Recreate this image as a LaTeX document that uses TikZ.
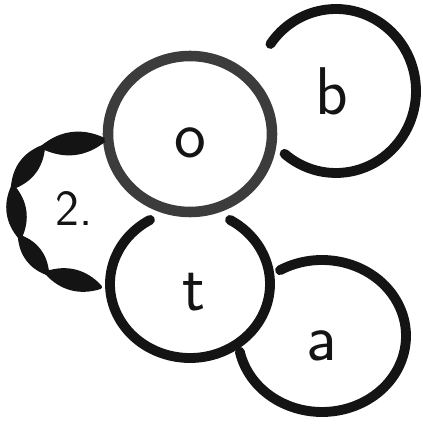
\documentclass[tikz,border=0pt]{standalone}
\usepackage{tikz}
\usetikzlibrary{calc}
\definecolor{inkblack}{HTML}{141414}
\definecolor{inkgrey}{HTML}{3C3C3C}
\newcommand{\ringarc}[6]{%
  \draw[#1] (#2) ++(#3:#5 and #6)
    arc[start angle=#3, end angle=#4, x radius=#5, y radius=#6];}

\begin{document}
\begin{tikzpicture}[
    ring/.style={draw=inkblack, line width=7pt, line cap=round},
    ringgrey/.style={draw=inkgrey, line width=7.5pt},
    lobe/.style={draw=inkblack, fill=inkblack, line width=3pt, line join=round},
    lettr/.style={font=\sffamily\fontsize{48}{48}\selectfont, text=inkblack, inner sep=0pt}]
  \useasboundingbox (0,0) rectangle (10.55,10.65);
  % ring centres
  \coordinate (oc) at (4.75,7.3);
  \coordinate (bc) at (8.4,8.375);
  \coordinate (tc) at (4.75,3.55);
  \coordinate (ac) at (8.05,2.25);
  % rings
  \ringarc{ringgrey}{oc}{0}{360}{2.05}{1.95}
  \ringarc{ring}{bc}{145}{-130}{2.0}{2.05}
  \ringarc{ring}{tc}{120}{420}{2.0}{1.85}
  \ringarc{ring}{ac}{120}{-168}{2.1}{1.9}
  % letters
  \node[lettr] (o) at (4.75,7.075) {o};
  \node[lettr] (b) at (8.3,8.375) {b};
  \node[lettr] (t) at (4.85,3.35) {t};
  \node[lettr] (a) at (8.05,2.0) {a};
  \node[lettr, font=\sffamily\fontsize{36}{36}\selectfont] (two) at (1.85,5.45) {2.};
  % chain of lobes
  \coordinate (k0) at (2.6,7.15);
  \coordinate (k1) at (1.075,6.975);
  \coordinate (k2) at (0.325,5.975);
  \coordinate (k3) at (0.5,4.725);
  \coordinate (k4) at (1.175,3.825);
  \coordinate (k5) at (2.5,3.475);
  \foreach \p/\q in {k0/k1, k1/k2, k2/k3, k3/k4, k4/k5}
    \draw[lobe] (\p) to[bend left=32] (\q) to[bend left=32] (\p);
\end{tikzpicture}
\end{document}
